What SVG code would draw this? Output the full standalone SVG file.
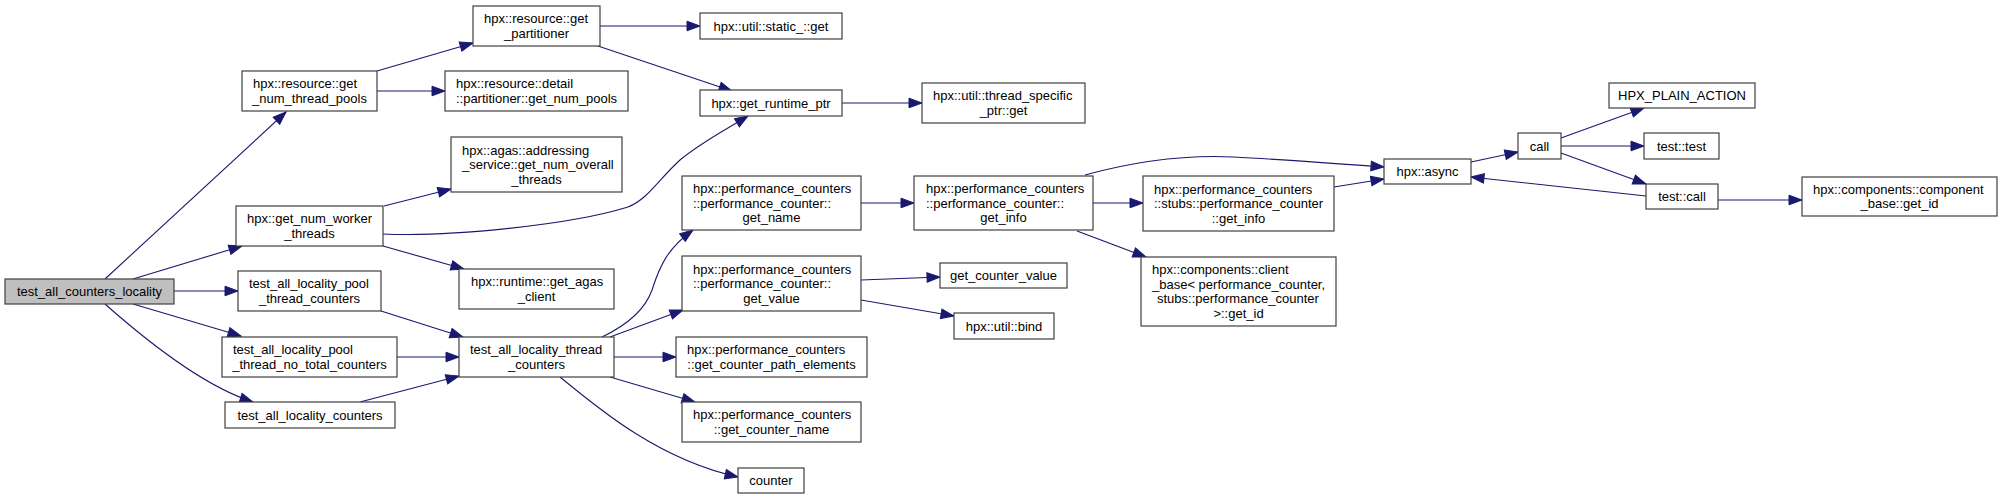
<svg xmlns="http://www.w3.org/2000/svg" width="2003" height="499" viewBox="0 0 2003 499">
<style>
.n rect{fill:#ffffff;stroke:#404040;stroke-width:1.2}
.n.root rect{fill:#bfbfbf}
.n text{font-family:"Liberation Sans",Arial,Helvetica,sans-serif;font-size:13px;fill:#000000}
.m{text-anchor:middle}
#edges path{fill:none;stroke:#191970;stroke-width:1.1;marker-end:url(#arr)}
</style>
<defs>
<marker id="arr" markerUnits="userSpaceOnUse" markerWidth="13" markerHeight="10" refX="13" refY="4.8" orient="auto" overflow="visible">
<path d="M0,0 L13,4.8 L0,9.6 Z" fill="#191970" stroke="#191970" stroke-width="1"/>
</marker>
</defs>
<rect x="0" y="0" width="2003" height="499" fill="#ffffff"/>
<g id="edges">
<path d="M105,279 L286,112"/>
<path d="M133,279 L242,246"/>
<path d="M174,291 L238,291"/>
<path d="M133,304 L241,336"/>
<path d="M105,304 C140,335 200,385 253,402"/>
<path d="M377,71 L473,43"/>
<path d="M377,91 L445,91"/>
<path d="M600,26 L700,26"/>
<path d="M598,46 L732,91"/>
<path d="M384,206 L451,189"/>
<path d="M383,234 C450,237 570,225 628,207 C648,199 658,180 680,160 C700,143 725,130 748,116"/>
<path d="M383,246 L464,269"/>
<path d="M381,311 L463,337"/>
<path d="M397,357 L459,357"/>
<path d="M360,402 L459,376"/>
<path d="M602,337 C625,326 645,310 652,290 C660,265 668,248 693,230"/>
<path d="M610,337 L683,310"/>
<path d="M614,357 L676,357"/>
<path d="M610,377 L695,402"/>
<path d="M560,377 C600,410 660,460 738,477"/>
<path d="M842,103 L922,103"/>
<path d="M861,203 L914,203"/>
<path d="M861,280 L940,277"/>
<path d="M861,300 L954,316"/>
<path d="M1085,175 C1140,160 1190,155 1233,157 C1290,160 1340,164 1384,167"/>
<path d="M1093,203 L1143,203"/>
<path d="M1077,231 L1146,257"/>
<path d="M1334,187 L1384,179"/>
<path d="M1471,162 L1518,152"/>
<path d="M1561,138 L1644,108"/>
<path d="M1561,146 L1644,146"/>
<path d="M1561,153 L1646,184"/>
<path d="M1646,196 L1471,177"/>
<path d="M1718,200 L1802,200"/>
</g>
<g id="n0" class="n root"><rect x="5" y="279" width="169" height="25"/><text class="m" x="89.5" y="296">test_all_counters_locality</text></g>
<g id="n1" class="n"><rect x="242" y="71" width="135" height="40"/><text x="253" y="88.25">hpx::resource::get</text><text class="m" x="309.5" y="102.75">_num_thread_pools</text></g>
<g id="n2" class="n"><rect x="236" y="206" width="147" height="40"/><text x="247" y="223.25">hpx::get_num_worker</text><text class="m" x="309.5" y="237.75">_threads</text></g>
<g id="n3" class="n"><rect x="238" y="271" width="143" height="40"/><text x="249" y="288.25">test_all_locality_pool</text><text class="m" x="309.5" y="302.75">_thread_counters</text></g>
<g id="n4" class="n"><rect x="222" y="337" width="175" height="40"/><text x="233" y="354.25">test_all_locality_pool</text><text class="m" x="309.5" y="368.75">_thread_no_total_counters</text></g>
<g id="n5" class="n"><rect x="225" y="402" width="170" height="26"/><text class="m" x="310" y="419.5">test_all_locality_counters</text></g>
<g id="n6" class="n"><rect x="473" y="6" width="127" height="40"/><text x="484" y="23.25">hpx::resource::get</text><text class="m" x="536.5" y="37.75">_partitioner</text></g>
<g id="n7" class="n"><rect x="445" y="71" width="183" height="40"/><text x="456" y="88.25">hpx::resource::detail</text><text class="m" x="536.5" y="102.75">::partitioner::get_num_pools</text></g>
<g id="n8" class="n"><rect x="451" y="137" width="171" height="55"/><text x="462" y="154.5">hpx::agas::addressing</text><text x="462" y="169">_service::get_num_overall</text><text class="m" x="536.5" y="183.5">_threads</text></g>
<g id="n9" class="n"><rect x="459" y="269" width="155" height="40"/><text x="471" y="286.25">hpx::runtime::get_agas</text><text class="m" x="536.5" y="300.75">_client</text></g>
<g id="n10" class="n"><rect x="459" y="337" width="155" height="40"/><text x="470" y="354.25">test_all_locality_thread</text><text class="m" x="536.5" y="368.75">_counters</text></g>
<g id="n11" class="n"><rect x="700" y="13" width="142" height="26"/><text class="m" x="771" y="30.5">hpx::util::static_::get</text></g>
<g id="n12" class="n"><rect x="700" y="90" width="142" height="26"/><text class="m" x="771" y="107.5">hpx::get_runtime_ptr</text></g>
<g id="n13" class="n"><rect x="682" y="176" width="179" height="54"/><text x="693" y="193">hpx::performance_counters</text><text x="693" y="207.5">::performance_counter::</text><text class="m" x="771.5" y="222">get_name</text></g>
<g id="n14" class="n"><rect x="682" y="256" width="179" height="55"/><text x="693" y="273.5">hpx::performance_counters</text><text x="693" y="288">::performance_counter::</text><text class="m" x="771.5" y="302.5">get_value</text></g>
<g id="n15" class="n"><rect x="676" y="337" width="191" height="40"/><text x="687" y="354.25">hpx::performance_counters</text><text class="m" x="771.5" y="368.75">::get_counter_path_elements</text></g>
<g id="n16" class="n"><rect x="682" y="402" width="179" height="40"/><text x="693" y="419.25">hpx::performance_counters</text><text class="m" x="771.5" y="433.75">::get_counter_name</text></g>
<g id="n17" class="n"><rect x="738" y="468" width="66" height="25"/><text class="m" x="771" y="485">counter</text></g>
<g id="n18" class="n"><rect x="922" y="83" width="163" height="40"/><text x="933" y="100.25">hpx::util::thread_specific</text><text class="m" x="1003.5" y="114.75">_ptr::get</text></g>
<g id="n19" class="n"><rect x="914" y="176" width="179" height="54"/><text x="926" y="193">hpx::performance_counters</text><text x="926" y="207.5">::performance_counter::</text><text class="m" x="1003.5" y="222">get_info</text></g>
<g id="n20" class="n"><rect x="940" y="263" width="127" height="25"/><text class="m" x="1003.5" y="280">get_counter_value</text></g>
<g id="n21" class="n"><rect x="954" y="313" width="100" height="26"/><text class="m" x="1004" y="330.5">hpx::util::bind</text></g>
<g id="n22" class="n"><rect x="1143" y="176" width="191" height="55"/><text x="1154" y="193.5">hpx::performance_counters</text><text x="1154" y="208">::stubs::performance_counter</text><text class="m" x="1238.5" y="222.5">::get_info</text></g>
<g id="n23" class="n"><rect x="1141" y="257" width="195" height="69"/><text x="1152" y="274.25">hpx::components::client</text><text x="1152" y="288.75">_base&lt; performance_counter,</text><text x="1157" y="303.25">stubs::performance_counter</text><text class="m" x="1238.5" y="317.75">&gt;::get_id</text></g>
<g id="n24" class="n"><rect x="1384" y="159" width="87" height="25"/><text class="m" x="1427.5" y="176">hpx::async</text></g>
<g id="n25" class="n"><rect x="1518" y="133" width="43" height="26"/><text class="m" x="1539.5" y="150.5">call</text></g>
<g id="n26" class="n"><rect x="1609" y="83" width="146" height="25"/><text class="m" x="1682" y="100">HPX_PLAIN_ACTION</text></g>
<g id="n27" class="n"><rect x="1644" y="133" width="75" height="26"/><text class="m" x="1681.5" y="150.5">test::test</text></g>
<g id="n28" class="n"><rect x="1646" y="184" width="72" height="25"/><text class="m" x="1682" y="201">test::call</text></g>
<g id="n29" class="n"><rect x="1802" y="177" width="195" height="39"/><text x="1813" y="193.75">hpx::components::component</text><text class="m" x="1899.5" y="208.25">_base::get_id</text></g>
</svg>
